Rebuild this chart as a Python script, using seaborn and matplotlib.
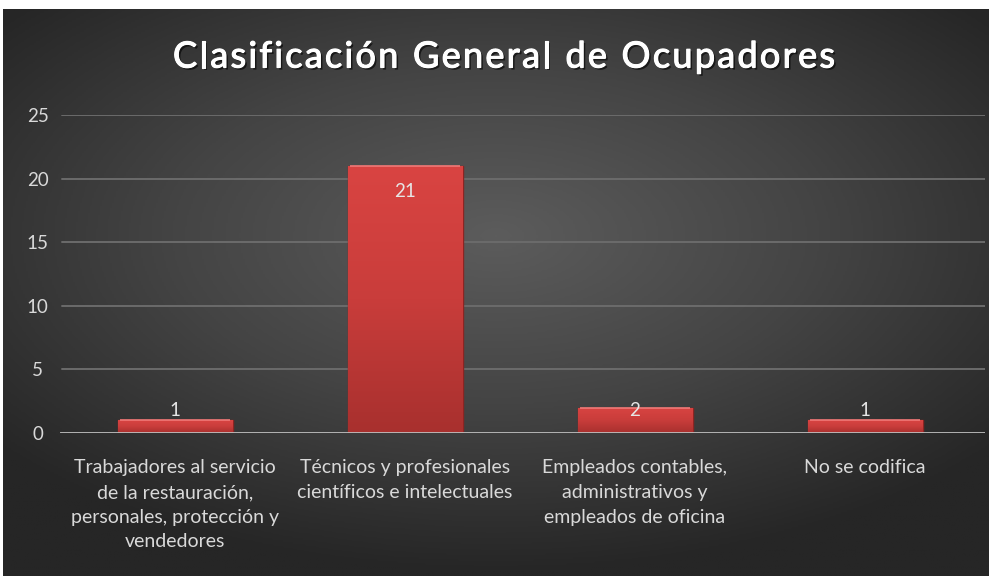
import matplotlib
matplotlib.use("Agg")
import matplotlib.pyplot as plt
import matplotlib.patheffects as pe
from matplotlib.colors import LinearSegmentedColormap
import numpy as np
import seaborn as sns

# Data
categories = [
    "Trabajadores al servicio\nde la restauración,\npersonales, protección y\nvendedores",
    "Técnicos y profesionales\ncientíficos e intelectuales",
    "Empleados contables,\nadministrativos y\nempleados de oficina",
    "No se codifica",
]
counts = [1, 21, 2, 1]
y_ticks = [0, 5, 10, 15, 20, 25]
title = "Clasificación General de Ocupadores"

sns.set_style("dark")
plt.rcParams["font.family"] = ["Lato", "DejaVu Sans"]

fig = plt.figure(figsize=(9.9, 5.76), dpi=100, facecolor="white")

# Dark radial background
bg = fig.add_axes([3 / 990, 0, 986 / 990, 567 / 576])
bg.set_axis_off()
yy, xx = np.mgrid[-1:1:300j, -1:1:500j]
r = np.sqrt((xx * 0.95) ** 2 + ((yy + 0.2) * 1.05) ** 2)
bg_cmap = LinearSegmentedColormap.from_list("bg", ["#5c5c5c", "#444444", "#262626"])
bg.imshow(np.clip(r / 1.25, 0, 1), cmap=bg_cmap, aspect="auto",
          extent=[0, 1, 0, 1], vmin=0, vmax=1)

# Plot area
ax = fig.add_axes([60 / 990, 1 - 433 / 576, 925 / 990, (433 - 115) / 576])
ax.patch.set_alpha(0)
sns.barplot(x=list(range(len(counts))), y=counts, color="#c43a38",
            width=0.5, ax=ax, zorder=3)

# red vertical gradient on each bar
bar_cmap = LinearSegmentedColormap.from_list("bar", ["#a8302e", "#c93d3b", "#d94442"])
grad = np.linspace(0, 1, 256).reshape(-1, 1)
for p in ax.patches:
    x0, y0 = p.get_x(), p.get_y()
    w, h = p.get_width(), p.get_height()
    im = ax.imshow(grad, cmap=bar_cmap, origin="lower", aspect="auto",
                   extent=[x0, x0 + w, y0, y0 + h], zorder=3.5)
    im.set_clip_path(p)
    p.set_edgecolor("#8e2422")
    p.set_linewidth(1.0)
    ax.plot([x0 + 0.01, x0 + w - 0.01], [y0 + h, y0 + h], color="#f07a78",
            lw=1.2, zorder=4, solid_capstyle="butt")

ax.set_xlim(-0.5, len(counts) - 0.5 + 5 / 230)
ax.set_ylim(0, 25)
ax.set_yticks(y_ticks)
ax.set_xticks(range(len(categories)))
ax.set_xticklabels(categories, color="#d9d9d9", fontsize=14,
                   linespacing=1.55, ha="center", va="top")
ax.tick_params(axis="x", length=0, pad=19)
ax.tick_params(axis="y", length=0, pad=16, labelcolor="#d9d9d9", labelsize=13.5)
for lbl in ax.get_yticklabels():
    lbl.set_horizontalalignment("center")
ax.set_xlabel("")
ax.set_ylabel("")

ax.grid(False)
for t in y_ticks[1:]:
    ax.axhline(t, color="#6b6b6b", lw=1.4, zorder=1, xmin=0.002, xmax=1.0)
ax.axhline(0, color="#bfbfbf", lw=2.0, zorder=5)
for s in ax.spines.values():
    s.set_visible(False)

# value labels, Excel "inside end" with a floor for short bars
for i, v in enumerate(counts):
    ypos = max(v - 2.05, 1.8)
    ax.text(i, ypos, str(v), ha="center", va="center",
            color="#e6e6e6", fontsize=13.5, zorder=6)

# title with letter spacing, drawn glyph by glyph
renderer = fig.canvas.get_renderer()
title_kw = dict(color="white", fontsize=26, fontweight="normal", va="center",
                path_effects=[pe.withSimplePatchShadow(offset=(1.5, -1.5),
                                                       shadow_rgbFace="black",
                                                       alpha=0.6),
                              pe.Stroke(linewidth=0.8, foreground="white"),
                              pe.Normal()])
spacing = 2.3  # px between glyphs
widths = []
for ch in title:
    t = fig.text(0, 0, ch if ch != " " else "n", **title_kw)
    bb = t.get_window_extent(renderer)
    widths.append(bb.width if ch != " " else bb.width * 0.5)
    t.remove()
total = sum(widths) + spacing * (len(title) - 1)
x = 504 - total / 2
ty = 1 - 57 / 576
for ch, wd in zip(title, widths):
    if ch != " ":
        fig.text(x / 990, ty, ch, ha="left", **title_kw)
    x += wd + spacing

fig.savefig("out.png", dpi=100, facecolor=fig.get_facecolor())
